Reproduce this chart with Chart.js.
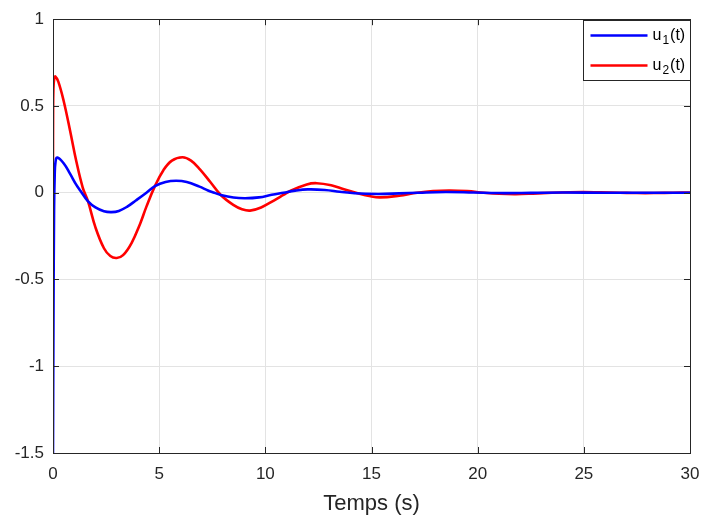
<!DOCTYPE html>
<html>
<head>
<meta charset="utf-8">
<script src="https://cdn.jsdelivr.net/npm/chart.js@4.4.1/dist/chart.umd.min.js"></script>
<style>
  html, body { margin: 0; padding: 0; background: #fff; }
  canvas { display: block; }
</style>
</head>
<body>
<canvas id="c" width="712" height="522"></canvas>
<script>
// values (time in s)
const tU1 = [0, 0.02, 0.05, 0.08, 0.12, 0.2, 0.5, 0.8, 1.1, 1.3, 1.65, 2.0, 2.4, 2.75, 3.1, 3.5, 3.9, 4.4, 4.8, 5.3, 5.8, 6.3, 6.9, 7.3, 7.6, 7.9, 8.5, 9.05, 9.7, 10.3, 10.85, 11.4, 12.0, 12.8, 13.5, 14.2, 15.3, 16.3, 17.2, 18.5, 19.8, 21.0, 22.5, 24.0, 26.0, 28.0, 30.0];
const u1 = [-1.5, -0.8, -0.1, 0.1, 0.18, 0.203, 0.17, 0.11, 0.045, 0.01, -0.05, -0.085, -0.107, -0.112, -0.105, -0.08, -0.045, 0.0, 0.038, 0.062, 0.069, 0.062, 0.035, 0.013, 0.0, -0.013, -0.028, -0.032, -0.027, -0.012, 0.0, 0.012, 0.019, 0.016, 0.006, -0.003, -0.007, -0.004, 0.0, 0.004, 0.001, -0.002, -0.001, 0.001, 0.0, 0.0, 0.0];

const tU2 = [0, 0.005, 0.02, 0.06, 0.11, 0.25, 0.5, 0.8, 1.1, 1.4, 1.65, 2.0, 2.4, 2.7, 3.0, 3.3, 3.7, 4.1, 4.4, 4.8, 5.2, 5.6, 6.1, 6.5, 6.92, 7.4, 7.9, 8.49, 8.9, 9.28, 9.8, 10.4, 10.85, 11.17, 11.95, 12.42, 13.1, 13.7, 14.39, 14.9, 15.4, 16.3, 17.14, 17.9, 18.7, 19.5, 20.3, 21.0, 21.8, 22.6, 23.5, 24.3, 25.0, 25.8, 26.7, 27.5, 28.3, 29.2, 30.0];
const u2 = [0.19, 0.45, 0.6, 0.66, 0.67, 0.64, 0.53, 0.36, 0.18, 0.03, -0.05, -0.2, -0.32, -0.365, -0.376, -0.36, -0.29, -0.18, -0.08, 0.038, 0.13, 0.185, 0.204, 0.185, 0.135, 0.063, -0.013, -0.07, -0.095, -0.103, -0.085, -0.045, -0.013, 0.01, 0.048, 0.055, 0.043, 0.02, -0.004, -0.019, -0.027, -0.017, 0.0, 0.01, 0.013, 0.009, 0.0, -0.006, -0.008, -0.005, 0.0, 0.003, 0.004, 0.002, 0.0, -0.002, -0.002, 0.0, 0.001];

const xTicks = [0, 5, 10, 15, 20, 25, 30];
const yTicks = [-1.5, -1, -0.5, 0, 0.5, 1];
const seriesNames = ['u', 'u'];
const seriesSubs = ['1', '2'];
const xTitle = 'Temps (s)';

const FONT = '"Liberation Sans", Arial, Helvetica, sans-serif';
const INK = '#262626';

function toPoints(ts, vs) {
  return ts.map((t, i) => ({ x: t, y: vs[i] }));
}

// MATLAB style box, inward ticks and legend
const matlabBox = {
  id: 'matlabBox',
  afterDraw(chart) {
    const ctx = chart.ctx;
    const a = chart.chartArea;
    const xs = chart.scales.x, ys = chart.scales.y;
    ctx.save();
    ctx.strokeStyle = INK;
    ctx.lineWidth = 1;
    ctx.beginPath();
    xTicks.forEach(v => {
      const px = Math.round(xs.getPixelForValue(v)) + 0.5;
      ctx.moveTo(px, a.bottom); ctx.lineTo(px, a.bottom - 6);
      ctx.moveTo(px, a.top); ctx.lineTo(px, a.top + 6);
    });
    yTicks.forEach(v => {
      const py = Math.round(ys.getPixelForValue(v)) + 0.5;
      ctx.moveTo(a.left, py); ctx.lineTo(a.left + 6, py);
      ctx.moveTo(a.right, py); ctx.lineTo(a.right - 6, py);
    });
    ctx.stroke();
    ctx.strokeRect(Math.round(a.left) + 0.5, Math.round(a.top) + 0.5,
                   Math.round(a.right - a.left), Math.round(a.bottom - a.top));

    // legend
    const bw = 107, bh = 60;
    const bx = Math.round(a.right) - bw + 0.5, by = Math.round(a.top) + 1.5;
    ctx.fillStyle = '#fff';
    ctx.fillRect(bx, by, bw, bh);
    ctx.strokeStyle = INK;
    ctx.strokeRect(bx, by, bw, bh);
    chart.data.datasets.forEach((ds, i) => {
      const ly = by + 15 + i * 30;
      ctx.strokeStyle = ds.borderColor;
      ctx.lineWidth = 2.5;
      ctx.beginPath();
      ctx.moveTo(bx + 7, ly);
      ctx.lineTo(bx + 64, ly);
      ctx.stroke();
      ctx.fillStyle = '#000';
      ctx.textBaseline = 'alphabetic';
      ctx.textAlign = 'left';
      let tx = bx + 69;
      ctx.font = '16px ' + FONT;
      ctx.fillText(seriesNames[i], tx, ly + 4);
      tx += ctx.measureText(seriesNames[i]).width + 1;
      ctx.font = '12px ' + FONT;
      ctx.fillText(seriesSubs[i], tx, ly + 8);
      tx += ctx.measureText(seriesSubs[i]).width + 1;
      ctx.font = '16px ' + FONT;
      ctx.fillText('(t)', tx, ly + 4);
    });
    ctx.restore();
  }
};

new Chart(document.getElementById('c'), {
  type: 'line',
  data: {
    datasets: [
      {
        label: 'u1(t)',
        data: toPoints(tU1, u1),
        borderColor: '#0000ff',
        borderWidth: 2.6,
        pointRadius: 0,
        fill: false,
        tension: 0.4
      },
      {
        label: 'u2(t)',
        data: toPoints(tU2, u2),
        borderColor: '#ff0000',
        borderWidth: 2.6,
        pointRadius: 0,
        fill: false,
        tension: 0.4
      }
    ]
  },
  options: {
    responsive: false,
    animation: false,
    events: [],
    layout: { padding: { top: 18, right: 22, left: 0, bottom: 0 } },
    plugins: {
      legend: { display: false },
      tooltip: { enabled: false }
    },
    scales: {
      x: {
        type: 'linear',
        min: 0,
        max: 30,
        afterFit(scale) { scale.height = 69; },
        afterBuildTicks(scale) { scale.ticks = xTicks.map(v => ({ value: v })); },
        border: { display: false },
        grid: { color: '#e3e3e3', drawTicks: false },
        ticks: {
          color: INK,
          padding: 11,
          maxRotation: 0,
          font: { family: FONT, size: 17 }
        },
        title: {
          display: true,
          text: xTitle,
          color: INK,
          padding: { top: 4, bottom: 5 },
          font: { family: FONT, size: 22 }
        }
      },
      y: {
        type: 'linear',
        min: -1.5,
        max: 1,
        afterFit(scale) { scale.width = 53; },
        afterBuildTicks(scale) { scale.ticks = yTicks.map(v => ({ value: v })); },
        border: { display: false },
        grid: { color: '#e3e3e3', drawTicks: false },
        ticks: {
          color: INK,
          padding: 9,
          font: { family: FONT, size: 17 },
          callback: v => String(v)
        }
      }
    }
  },
  plugins: [matlabBox]
});
</script>
</body>
</html>
